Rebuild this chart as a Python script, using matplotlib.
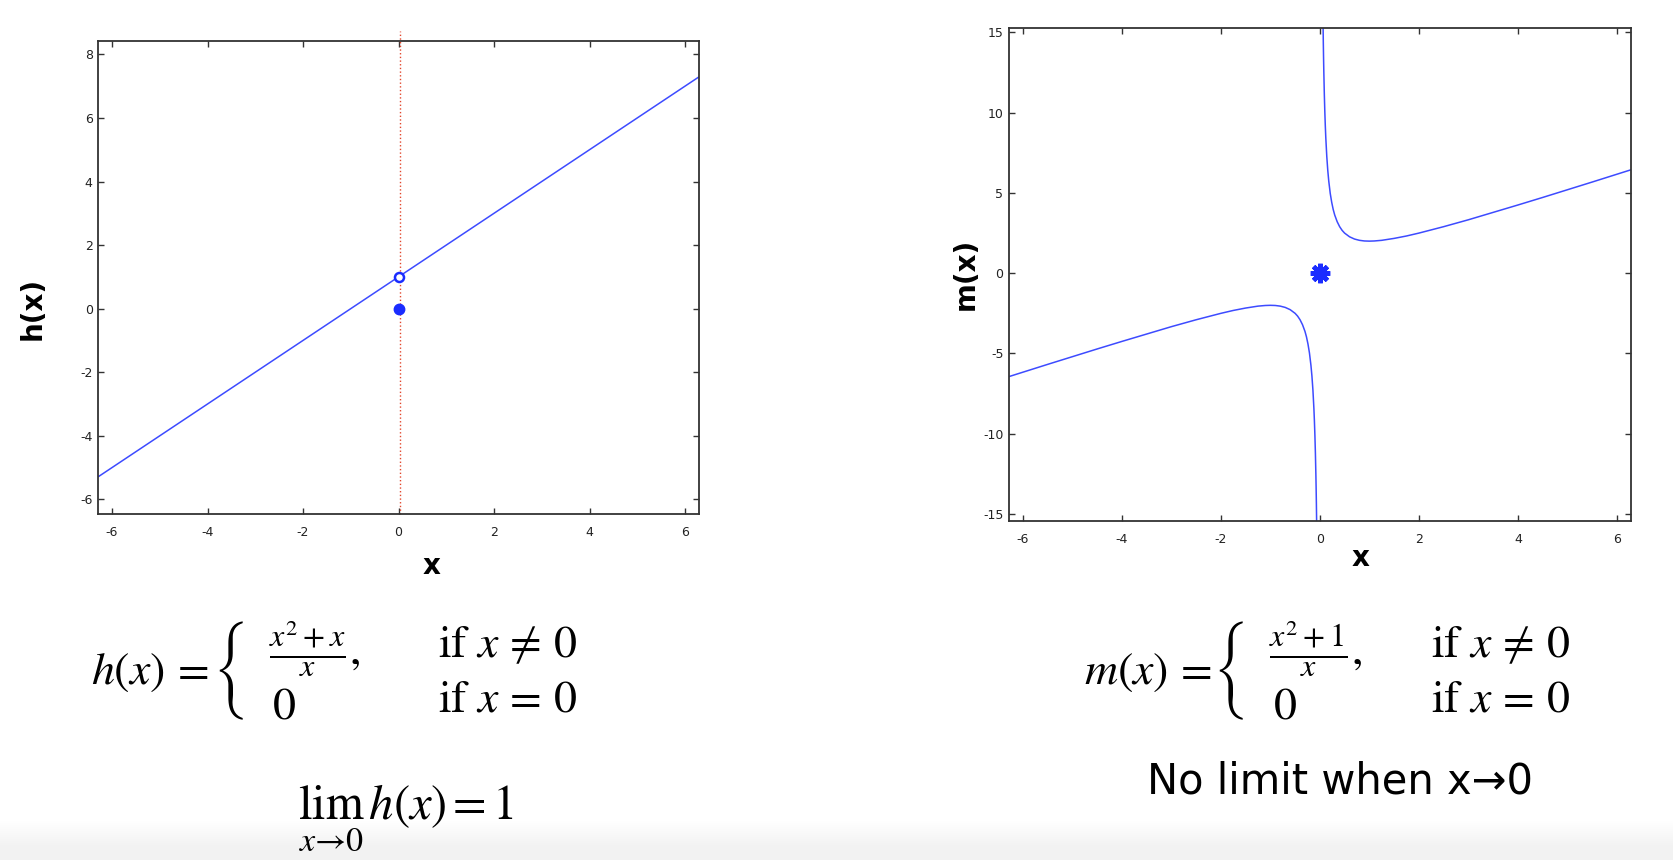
import numpy as np
import matplotlib.pyplot as plt
from matplotlib.colors import LinearSegmentedColormap

plt.rcParams['mathtext.fontset'] = 'stix'
plt.rcParams['axes.unicode_minus'] = False

# h(x): straight line with a hole at (0, 1) and a dot at (0, 0)
h_x = [-6.28, 6.28]
h_y = [-5.28, 7.28]
h_hole = (0, 1)
h_dot = (0, 0)
h_guide_x = 0.03

# m(x): two branches, plus the point at the origin
m_left_x = [-6.28, -5.5, -5.0, -4.5, -4.0, -3.5, -3.0, -2.5, -2.0, -1.75, -1.5, -1.25,
            -1.1, -1.0, -0.9, -0.8, -0.7, -0.6, -0.5, -0.45, -0.4, -0.35, -0.3, -0.27,
            -0.24, -0.21, -0.18, -0.16, -0.14, -0.12, -0.11, -0.1, -0.09, -0.08, -0.075,
            -0.07, -0.064]
m_left_y = [-6.44, -5.68, -5.2, -4.72, -4.25, -3.79, -3.33, -2.9, -2.5, -2.32, -2.17, -2.05,
            -2.01, -2.0, -2.01, -2.05, -2.13, -2.27, -2.5, -2.67, -2.9, -3.21, -3.63, -3.97,
            -4.41, -4.97, -5.74, -6.41, -7.28, -8.45, -9.2, -10.1, -11.2, -12.58, -13.41,
            -14.36, -15.7]
m_right_x = [0.064, 0.07, 0.075, 0.08, 0.09, 0.1, 0.11, 0.12, 0.14, 0.16, 0.18, 0.21,
             0.24, 0.27, 0.3, 0.35, 0.4, 0.45, 0.5, 0.6, 0.7, 0.8, 0.9, 1.0,
             1.1, 1.25, 1.5, 1.75, 2.0, 2.5, 3.0, 3.5, 4.0, 4.5, 5.0, 5.5, 6.28]
m_right_y = [15.7, 14.36, 13.41, 12.58, 11.2, 10.1, 9.2, 8.45, 7.28, 6.41, 5.74, 4.97,
             4.41, 3.97, 3.63, 3.21, 2.9, 2.67, 2.5, 2.27, 2.13, 2.05, 2.01, 2.0,
             2.01, 2.05, 2.17, 2.32, 2.5, 2.9, 3.33, 3.79, 4.25, 4.72, 5.2, 5.68, 6.44]
m_point = (0, 0)

x_ticks = [-6, -4, -2, 0, 2, 4, 6]
h_yticks = [-6, -4, -2, 0, 2, 4, 6, 8]
m_yticks = [-15, -10, -5, 0, 5, 10, 15]

W, H = 1674, 860
LINE = '#3d4bff'
MARK = '#1a2cff'


def fx(px):
    return px / W


def fy(py):
    return 1 - py / H


def style_axes(ax, yticks):
    ax.set_xticks(x_ticks)
    ax.set_yticks(yticks)
    ax.tick_params(direction='in', top=True, right=True, length=4, width=1,
                   color='#333333', labelsize=9, labelcolor='#222222')
    ax.tick_params(axis='x', pad=9)
    ax.tick_params(axis='y', pad=4)
    for s in ax.spines.values():
        s.set_color('#333333')
        s.set_linewidth(1.3)


def piecewise(x0, brace_dx, name, numer):
    # name =  { numer/x ,   if x != 0
    #           0           if x = 0
    fs = 33
    fig.text(fx(x0), fy(671), r'$%s(x)\,=$' % name, fontsize=fs, ha='left', va='center')
    fig.text(fx(x0 + brace_dx), fy(670),
             r'$\left\{\hspace{0.6}\genfrac{}{}{0}{0}{\frac{%s}{x},}{0\hspace{2.1}}\right.$' % numer,
             fontsize=fs, ha='left', va='center')
    fig.text(fx(x0 + 347), fy(645), r'$\mathrm{if}\ x\,\neq\,0$', fontsize=fs, ha='left', va='center')
    fig.text(fx(x0 + 347), fy(699), r'$\mathrm{if}\ x\,=\,0$', fontsize=fs, ha='left', va='center')


fig = plt.figure(figsize=(W / 100, H / 100), dpi=100)

# faint grey fade along the bottom edge
bg = fig.add_axes([0, 0, 1, 52 / H], zorder=-1)
fade = LinearSegmentedColormap.from_list('fade', ['#ffffff', '#f2f2f2'])
bg.imshow(np.array([[0.0], [1.0]]), cmap=fade, aspect='auto',
          extent=[0, 1, 1, 0], interpolation='bilinear')
bg.set_axis_off()

# left panel
ax1 = fig.add_axes([fx(98.3), fy(514), fx(600.7), 473.3 / H])
ax1.plot(h_x, h_y, color=LINE, lw=1.1)
ax1.plot([h_guide_x, h_guide_x], [-6.46, 8.74], color='#e2452b', lw=1, ls=':',
         clip_on=False)
ax1.plot(*h_hole, 'o', ms=6.5, mfc='white', mec=MARK, mew=1.8)
ax1.plot(*h_dot, 'o', ms=7.5, color=MARK)
ax1.set_xlim(-6.287, 6.293)
ax1.set_ylim(-6.46, 8.43)
style_axes(ax1, h_yticks)

# right panel
ax2 = fig.add_axes([fx(1009), fy(520.7), fx(621.7), 492.7 / H])
ax2.plot(m_left_x, m_left_y, color=LINE, lw=1.1)
ax2.plot(m_right_x, m_right_y, color=LINE, lw=1.1)
ax2.plot(*m_point, marker=(8, 2, 0), ms=14, mew=3.4, color=MARK)
ax2.set_xlim(-6.28, 6.28)
ax2.set_ylim(-15.42, 15.28)
style_axes(ax2, m_yticks)

# axis labels
lab = dict(fontsize=20, fontweight='bold', color='black')
fig.text(fx(432), fy(566), 'x', ha='center', va='center', **lab)
fig.text(fx(33), fy(308), 'h(x)', ha='center', va='center', rotation=90, **lab)
fig.text(fx(1361), fy(558), 'x', ha='center', va='center', **lab)
fig.text(fx(966), fy(274), 'm(x)', ha='center', va='center', rotation=90, **lab)

# formulas
piecewise(91, 122, 'h', 'x^2+x')
fig.text(fx(406), fy(818), r'$\lim_{x\to 0}\,h(x)\,=\,1$', fontsize=35, ha='center', va='center')

piecewise(1084, 129, 'm', 'x^2+1')
fig.text(fx(1340), fy(782), 'No limit when x\u21920', fontsize=30, ha='center', va='center')

fig.savefig('out.png', dpi=100)
